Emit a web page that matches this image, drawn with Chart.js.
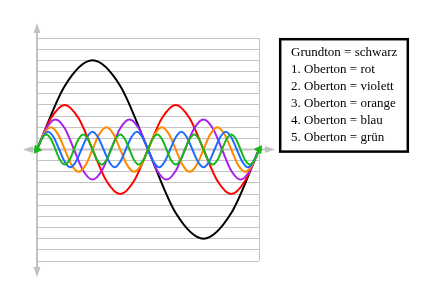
<!DOCTYPE html>
<html>
<head>
<meta charset="utf-8">
<script src="https://cdn.jsdelivr.net/npm/chart.js@4/dist/chart.umd.min.js"></script>
<style>
  html, body { margin: 0; padding: 0; background: #fff; }
  canvas { display: block; }
</style>
</head>
<body>
<canvas id="chart" width="428" height="286"></canvas>
<script>
const grundton = [0, 5.7, 8, 5.7, 0, -5.7, -8, -5.7, 0];
const oberton1 = [0, 2.8, 4, 2.8, 0, -2.8, -4, -2.8,
                  0, 2.8, 4, 2.8, 0, -2.8, -4, -2.8, 0];
const oberton2 = [0, 1.9, 2.7, 1.9, 0, -1.9, -2.7, -1.9,
                  0, 1.9, 2.7, 1.9, 0, -1.9, -2.7, -1.9,
                  0, 1.9, 2.7, 1.9, 0, -1.9, -2.7, -1.9, 0];
const oberton3 = [0, 1.4, 2, 1.4, 0, -1.4, -2, -1.4,
                  0, 1.4, 2, 1.4, 0, -1.4, -2, -1.4,
                  0, 1.4, 2, 1.4, 0, -1.4, -2, -1.4,
                  0, 1.4, 2, 1.4, 0, -1.4, -2, -1.4, 0];
const oberton4 = [0, 1.1, 1.6, 1.1, 0, -1.1, -1.6, -1.1,
                  0, 1.1, 1.6, 1.1, 0, -1.1, -1.6, -1.1,
                  0, 1.1, 1.6, 1.1, 0, -1.1, -1.6, -1.1,
                  0, 1.1, 1.6, 1.1, 0, -1.1, -1.6, -1.1,
                  0, 1.1, 1.6, 1.1, 0, -1.1, -1.6, -1.1, 0];
const oberton5 = [0, 0.95, 1.35, 0.95, 0, -0.95, -1.35, -0.95,
                  0, 0.95, 1.35, 0.95, 0, -0.95, -1.35, -0.95,
                  0, 0.95, 1.35, 0.95, 0, -0.95, -1.35, -0.95,
                  0, 0.95, 1.35, 0.95, 0, -0.95, -1.35, -0.95,
                  0, 0.95, 1.35, 0.95, 0, -0.95, -1.35, -0.95,
                  0, 0.95, 1.35, 0.95, 0, -0.95, -1.35, -0.95, 0];

const series = [grundton, oberton1, oberton2, oberton3, oberton4, oberton5];
const labels = ['Grundton = schwarz', '1. Oberton = rot', '2. Oberton = violett',
                '3. Oberton = orange', '4. Oberton = blau', '5. Oberton = grün'];
const colors = ['#000000', '#ff0000', '#a820ee', '#ff8a00', '#1e6cff', '#18b818'];

const xMax = 360;
const yMin = -10, yMax = 10;

function toPoints(vals) {
    return vals.map((v, i) => ({ x: i * xMax / (vals.length - 1), y: v }));
}

const datasets = series.map((vals, k) => {
    const last = k === series.length - 1;
    return {
        label: labels[k],
        data: toPoints(vals),
        borderColor: colors[k],
        backgroundColor: colors[k],
        borderWidth: 2,
        cubicInterpolationMode: 'monotone',
        pointRadius: last ? vals.map((v, i) => (i === 0 || i === vals.length - 1) ? 4.5 : 0) : 0,
        pointStyle: 'triangle',
        pointRotation: last ? vals.map((v, i) => i === 0 ? 215 : 35) : 0,
        pointBorderWidth: 1,
        order: series.length - k,
        clip: false
    };
});

// gray axes with arrow heads
const axesPlugin = {
    id: 'axes',
    beforeDatasetsDraw(chart) {
        const ctx = chart.ctx;
        const x0 = chart.scales.x.getPixelForValue(0);
        const y0 = chart.scales.y.getPixelForValue(0);
        const a = chart.chartArea;
        ctx.save();
        ctx.strokeStyle = '#c2c2c2';
        ctx.fillStyle = '#c2c2c2';
        ctx.lineWidth = 2;
        ctx.beginPath();
        ctx.moveTo(x0, a.top - 8);
        ctx.lineTo(x0, a.bottom + 8);
        ctx.moveTo(a.left - 8, y0);
        ctx.lineTo(a.right + 8, y0);
        ctx.stroke();
        const head = (tx, ty, dx, dy) => {
            ctx.beginPath();
            ctx.moveTo(tx, ty);
            ctx.lineTo(tx - dx * 10 - dy * 3.5, ty - dy * 10 - dx * 3.5);
            ctx.lineTo(tx - dx * 10 + dy * 3.5, ty - dy * 10 + dx * 3.5);
            ctx.closePath();
            ctx.fill();
        };
        head(x0, a.top - 15, 0, -1);
        head(x0, a.bottom + 16, 0, 1);
        head(a.left - 14, y0, -1, 0);
        head(a.right + 16, y0, 1, 0);
        ctx.restore();
    }
};

// boxed text legend on the right
const boxPlugin = {
    id: 'box',
    afterDraw(chart) {
        const ctx = chart.ctx;
        ctx.save();
        ctx.strokeStyle = '#000';
        ctx.lineWidth = 2.5;
        ctx.strokeRect(280.2, 39.2, 127.6, 112.4);
        ctx.fillStyle = '#000';
        ctx.font = '13px "Liberation Serif", "Times New Roman", serif';
        ctx.textBaseline = 'alphabetic';
        chart.data.datasets.forEach((ds, i) => {
            ctx.fillText(ds.label, 291, 56 + i * 17);
        });
        ctx.restore();
    }
};

new Chart(document.getElementById('chart').getContext('2d'), {
    type: 'line',
    data: { datasets: datasets },
    options: {
        responsive: false,
        devicePixelRatio: 1,
        animation: false,
        layout: { padding: { left: 37, top: 38, right: 169, bottom: 25 } },
        scales: {
            x: {
                type: 'linear', min: 0, max: xMax,
                ticks: { display: false, stepSize: xMax },
                grid: { color: '#c4c4c4', drawTicks: false },
                border: { display: false }
            },
            y: {
                min: yMin, max: yMax,
                ticks: { display: false, stepSize: 1 },
                grid: { color: '#c4c4c4', drawTicks: false },
                border: { display: false }
            }
        },
        plugins: {
            legend: { display: false },
            tooltip: { enabled: false }
        }
    },
    plugins: [axesPlugin, boxPlugin]
});
</script>
</body>
</html>
